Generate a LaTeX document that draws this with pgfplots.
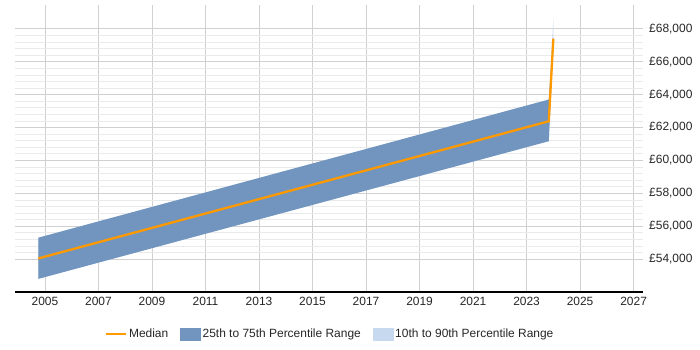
\documentclass[border=0pt]{standalone}
\usepackage{fontspec}
\setmainfont{Liberation Sans}
\usepackage{pgfplots}
\pgfplotsset{compat=1.18}
\usepgfplotslibrary{fillbetween}

\definecolor{medianorange}{HTML}{FF9900}
\definecolor{iqrblue}{HTML}{7195BE}
\definecolor{decileblue}{HTML}{C6D9EE}
\definecolor{gridmajor}{HTML}{D0D0D0}
\definecolor{gridminor}{HTML}{EAEAEA}

\pgfplotsset{
  boxlegend/.style={legend image code/.code={
    \fill[#1] (0bp,-6bp) rectangle (20bp,6bp);}},
  linelegend/.style={legend image code/.code={
    \draw[medianorange, line width=2.5bp] (0bp,0bp) -- (20bp,0bp);}},
}

\begin{document}
\begin{tikzpicture}[font=\fontsize{12}{14}\selectfont]
\begin{axis}[
  at={(0,0)}, anchor=south west,
  scale only axis,
  width=627.7bp, height=287bp,
  xmin=2003.88, xmax=2027.34,
  ymin=52000, ymax=69450,
  axis y line*=right,
  axis x line*=bottom,
  axis line style={draw=none},
  x axis line style={draw=black, line width=1.2pt},
  xtick={2005,2007,...,2027},
  ytick={54000,56000,...,68000},
  scaled y ticks=false,
  minor y tick num=4,
  xmajorgrids, ymajorgrids, yminorgrids,
  major grid style={draw=gridmajor, line width=0.75bp},
  minor grid style={draw=gridminor, line width=0.75bp},
  x tick style={draw=gridmajor, line width=0.75bp},
  major tick length=5bp,
  y tick style={draw=none},
  minor y tick style={draw=none},
  /pgf/number format/assume math mode=true,
  xticklabel style={/pgf/number format/1000 sep={}, yshift=-2bp},
  yticklabel={£\pgfmathprintnumber[1000 sep={,}]{\tick}},
  yticklabel style={xshift=3bp},
  tick label style={text=black!85},
  legend style={at={(315bp,-42bp)}, anchor=center, draw=none, fill=none,
    legend columns=3, /tikz/every even column/.append style={column sep=10bp},
    text=black!85, font=\fontsize{12}{14}\selectfont},
  legend cell align=left,
  clip=false,
]
% 10th to 90th percentile band
\addplot[name path=p90, draw=none, forget plot] coordinates {(2004.75,55300) (2023.83,63700) (2024.0,68600)};
\addplot[name path=p10, draw=none, forget plot] coordinates {(2004.75,52800) (2023.83,61170) (2024.0,67000)};
% 25th to 75th percentile band
\addplot[name path=p75, draw=none, forget plot] coordinates {(2004.75,55300) (2023.83,63700) (2024.0,67500)};
\addplot[name path=p25, draw=none, forget plot] coordinates {(2004.75,52800) (2023.83,61170) (2024.0,67200)};

\addplot[fill=decileblue, draw=none, forget plot] fill between[of=p90 and p10];
\addplot[fill=iqrblue, draw=none, forget plot] fill between[of=p75 and p25];

% Median
\addplot[medianorange, line width=2.3bp, linelegend] coordinates {(2004.75,54040) (2023.83,62380) (2024.0,67400)};
\addlegendentry{Median}

\addlegendimage{boxlegend=iqrblue}
\addlegendentry{25th to 75th Percentile Range}
\addlegendimage{boxlegend=decileblue}
\addlegendentry{10th to 90th Percentile Range}
\end{axis}
\pgfresetboundingbox
\useasboundingbox (-15bp,-58bp) rectangle (685bp,292bp);
\end{tikzpicture}
\end{document}
